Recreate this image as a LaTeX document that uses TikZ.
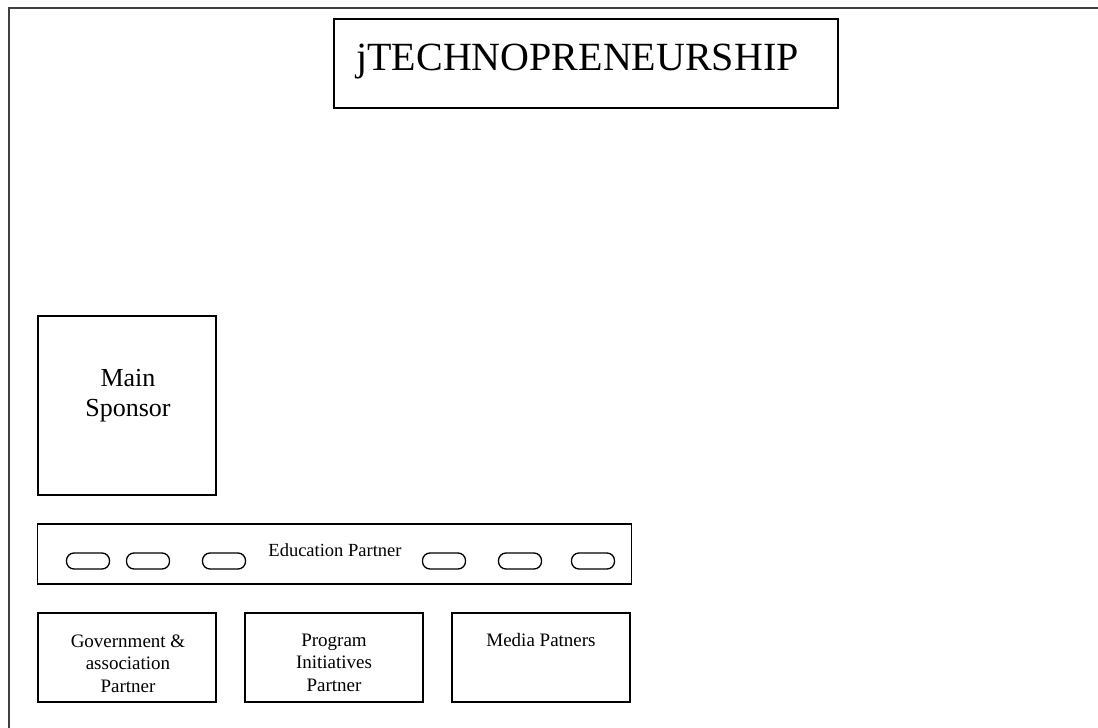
\documentclass[tikz,border=0pt]{standalone}
\usepackage{fontspec}
\setmainfont{Liberation Serif}
\usetikzlibrary{positioning}

\begin{document}
\begin{tikzpicture}[x=1pt,y=-1pt,node distance=207pt,line width=1.3pt,
  box node/.style={rectangle,draw,inner sep=0pt,minimum width=178pt,minimum height=89pt},
  pill node/.style={rectangle,draw,rounded corners=7.5pt,minimum width=43pt,minimum height=16pt,inner sep=0pt},
  text node/.style={align=center,inner sep=0pt,anchor=base,font=\fontsize{19}{22.5}\selectfont}]

 \useasboundingbox (0,0) rectangle (1098,728);
 \draw[line width=1.2pt,black!75] (1098,8) -- (9,8) -- (9,728);

 \node[box node,minimum width=504pt] (title) at (586,63.5) {};
 \node[box node,minimum height=179pt] (sponsor) at (127,405.5) {};
 \node[box node,minimum width=594pt,minimum height=60pt] (edu) at (334.5,554) {};
 \node[box node] (gov) at (127,657.5) {};
 \node[box node] (prog) [right of=gov] {};
 \node[box node] (media) [right of=prog] {};

 \foreach \x [count=\i] in {88,148,224,444,520,593}
   \node[pill node] (pill\i) at (\x,561) {};

 % base anchor sits on the last line
 \node[text node,font=\fontsize{40}{44}\selectfont] (titletxt) at (577.5,70) {jTECHNOPRENEURSHIP};
 \node[text node,font=\fontsize{26}{30}\selectfont] (sponsortxt) at (128,416) {Main\\Sponsor};
 \node[text node,font=\fontsize{18.5}{22}\selectfont] (edutxt) at (335,556) {Education Partner};
 \node[text node] (govtxt) at (128,692) {Government \&\\association\\Partner};
 \node[text node] (progtxt) at ([yshift=-79pt]prog.north) {Program\\Initiatives\\Partner};
 \node[text node] (mediatxt) at ([yshift=-34pt]media.north) {Media Patners};

\end{tikzpicture}
\end{document}
